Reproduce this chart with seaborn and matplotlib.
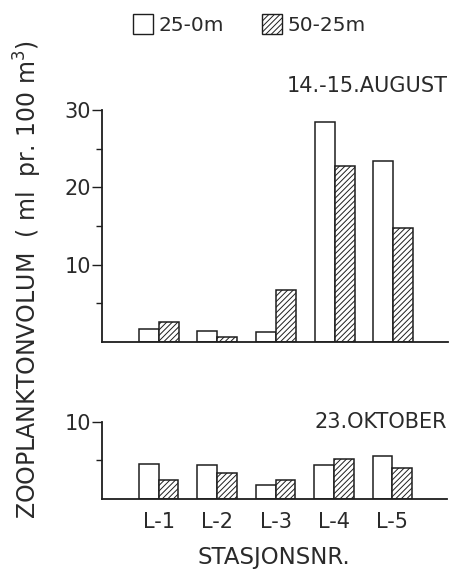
import matplotlib
matplotlib.use("Agg")
import matplotlib.pyplot as plt
from matplotlib.patches import Patch
from matplotlib.ticker import FixedLocator
import pandas as pd
import seaborn as sns

# Stations and depth intervals
stations = ["L-1", "L-2", "L-3", "L-4", "L-5"]
depths = ["25-0m", "50-25m"]

# Zooplankton volume (ml per 100 m^3)
aug_upper = [1.65, 1.45, 1.35, 28.4, 23.45]
aug_lower = [2.6, 0.7, 6.8, 22.8, 14.8]
oct_upper = [4.55, 4.4, 1.9, 4.4, 5.6]
oct_lower = [2.5, 3.35, 2.5, 5.2, 4.0]

sns.set_theme(style="white")
plt.rcParams["font.family"] = ["DejaVu Sans"]
plt.rcParams["hatch.color"] = "#555555"
plt.rcParams["hatch.linewidth"] = 0.7

INK = "#1e1e1e"
TXT = "#2a2a2a"


def frame(upper, lower):
    return pd.DataFrame({
        "station": stations * 2,
        "depth": [depths[0]] * len(stations) + [depths[1]] * len(stations),
        "value": list(upper) + list(lower),
    })


fig = plt.figure(figsize=(4.55, 5.76), dpi=100)
ax_top = fig.add_axes([0.224, 0.406, 0.760, 0.403])
ax_bot = fig.add_axes([0.224, 0.1332, 0.758, 0.1347])

panels = [
    (ax_top, frame(aug_upper, aug_lower), 30, [10, 20, 30], [5, 15, 25],
     "14.-15.AUGUST", 1.103),
    (ax_bot, frame(oct_upper, oct_lower), 10, [10], [5],
     "23.OKTOBER", 1.0),
]

for ax, df, ymax, major, minor, title, ty in panels:
    sns.barplot(data=df, x="station", y="value", hue="depth",
                hue_order=depths, order=stations, palette=["white", "white"],
                width=0.68, gap=0, edgecolor=INK, linewidth=1.1,
                errorbar=None, legend=False, ax=ax)
    for bar in ax.containers[1]:
        bar.set_hatch("//////")
    ax.set_xlim(-0.97, 4.93)
    ax.set_ylim(0, ymax)
    ax.yaxis.set_major_locator(FixedLocator(major))
    ax.yaxis.set_minor_locator(FixedLocator(minor))
    for side in ("top", "right"):
        ax.spines[side].set_visible(False)
    for side in ("left", "bottom"):
        ax.spines[side].set_color(INK)
        ax.spines[side].set_linewidth(1.3)
    ax.tick_params(axis="y", which="major", direction="out", length=7,
                   width=1.0, color=INK, labelsize=15, labelcolor=TXT, pad=1,
                   left=True)
    ax.tick_params(axis="y", which="minor", direction="out", length=4,
                   width=1.0, color=INK, left=True)
    ax.set_xlabel("")
    ax.set_ylabel("")
    ax.text(1.0, ty, title, transform=ax.transAxes, ha="right", va="center",
            fontsize=15, color=TXT)

ax_top.tick_params(axis="x", length=0, labelbottom=False)
ax_bot.tick_params(axis="x", length=0, labelsize=15, labelcolor=TXT, pad=9)
ax_bot.set_xlabel("STASJONSNR.", fontsize=16.5, color=TXT, labelpad=10)

fig.text(0.062, 0.514, "ZOOPLANKTONVOLUM  ( ml  pr. 100 m$^3$)",
         rotation=90, ha="center", va="center", fontsize=17, color=TXT)

handles = [
    Patch(facecolor="white", edgecolor=INK, linewidth=1.0, label=depths[0]),
    Patch(facecolor="white", edgecolor=INK, linewidth=1.0, hatch="//////",
          label=depths[1]),
]
fig.legend(handles=handles, loc="upper center", bbox_to_anchor=(0.548, 1.008),
           ncol=2, frameon=False, fontsize=14.5, handlelength=1.0,
           handleheight=1.2, handletextpad=0.25, columnspacing=1.9,
           labelcolor=TXT)

fig.savefig("out.png", dpi=100, facecolor="white")
